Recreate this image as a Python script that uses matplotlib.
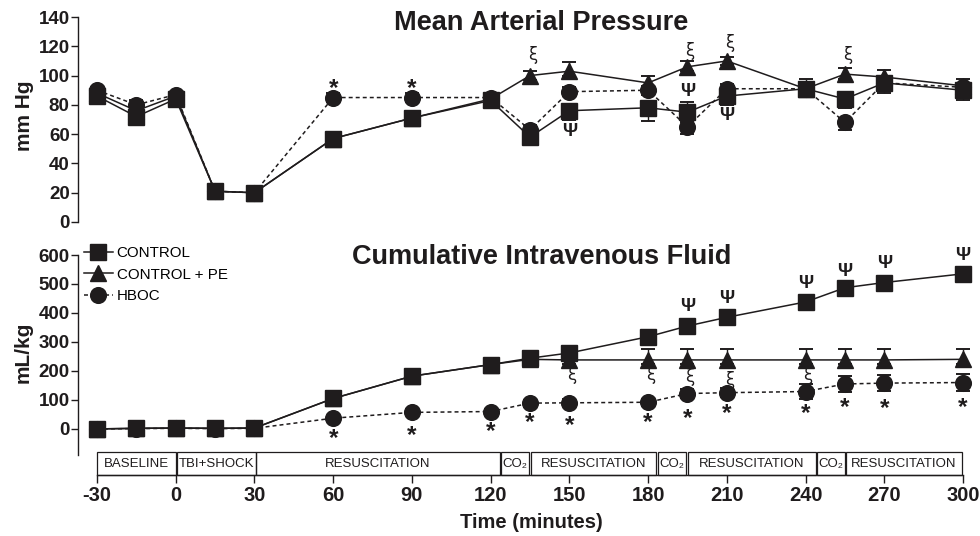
import matplotlib
matplotlib.use('Agg')
import matplotlib.pyplot as plt
from matplotlib.patches import Rectangle
from matplotlib.lines import Line2D
from matplotlib.transforms import offset_copy

plt.rcParams['font.family'] = ['Liberation Sans', 'DejaVu Sans']
plt.rcParams['axes.unicode_minus'] = False

# ---------------- data ----------------
time = [-30, -15, 0, 15, 30, 60, 90, 120, 135, 150, 180, 195, 210, 240, 255, 270, 300]

map_control = [86, 72, 84, 21, 20, 57, 71, 83, 58, 76, 78, 75, 86, 91, 84, 95, 90]
map_control_pe = [88, 76, 86, 21, 20, 57, 71, 84, 100, 103, 95, 106, 110, 91, 101, 99, 93]
map_hboc = [90, 80, 87, 21, 20, 85, 85, 85, 63, 89, 90, 65, 91, 91, 68, 95, 92]

map_control_lo = [2, 3, 2, 1, 1, 3, 3, 3, 3, 6, 9, 3, 6, 4, 6, 7, 7]
map_control_hi = [2, 3, 2, 1, 1, 3, 3, 3, 3, 3, 3, 7, 3, 7, 3, 3, 3]
map_pe_lo = [2, 3, 2, 1, 1, 3, 3, 3, 3, 3, 3, 3, 3, 3, 3, 3, 3]
map_pe_hi = [2, 3, 2, 1, 1, 3, 3, 3, 3, 6, 5, 4, 3, 3, 4, 5, 5]
map_hboc_lo = [2, 3, 2, 1, 1, 3, 3, 3, 3, 3, 3, 5, 3, 3, 5, 3, 3]
map_hboc_hi = [2, 3, 2, 1, 1, 3, 3, 3, 3, 3, 3, 3, 3, 3, 3, 3, 3]

ivf_control = [0, 2, 3, 2, 3, 105, 182, 222, 244, 262, 318, 355, 385, 438, 487, 505, 535]
ivf_control_pe = [0, 2, 3, 2, 3, 105, 182, 222, 240, 238, 238, 238, 238, 238, 238, 238, 240]
ivf_hboc = [0, 1, 2, 1, 2, 37, 57, 60, 89, 90, 92, 122, 125, 129, 155, 158, 160]

ivf_control_err = [0, 1, 1, 1, 1, 10, 12, 12, 12, 15, 15, 15, 18, 18, 18, 20, 20]
ivf_pe_lo = [0, 1, 1, 1, 1, 10, 12, 12, 15, 15, 15, 15, 15, 15, 15, 15, 15]
ivf_pe_hi = [0, 1, 1, 1, 1, 10, 12, 12, 20, 25, 37, 37, 37, 37, 37, 37, 37]
ivf_hboc_err = [0, 1, 1, 1, 1, 8, 10, 10, 12, 12, 12, 15, 15, 27, 27, 27, 28]

# significance markers (time, y)
map_star_t = [60, 90]
map_star_y = [96, 96]
map_xi_t = [135, 195, 210, 255]
map_xi_y = [114, 117, 122, 114]
map_psi_t = [150, 195, 210]
map_psi_y = [62, 89, 73]

ivf_star_t = [60, 90, 120, 135, 150, 180, 195, 210, 240, 255, 270, 300]
ivf_star_y = [-9, 2, 17, 48, 37, 48, 60, 77, 77, 100, 94, 100]
ivf_xi_t = [150, 180, 195, 210, 240]
ivf_xi_y = [186, 186, 180, 169, 186]
ivf_psi_t = [195, 210, 240, 255, 270, 300]
ivf_psi_y = [424, 451, 502, 542, 571, 597]

phase_labels = ['BASELINE', 'TBI+SHOCK', 'RESUSCITATION', 'CO\u2082', 'RESUSCITATION',
                'CO\u2082', 'RESUSCITATION', 'CO\u2082', 'RESUSCITATION']
phase_start = [-30, 0.4, 30.6, 124.1, 135.3, 183.7, 195.2, 244.5, 255.6]
phase_end = [0, 30.4, 123.5, 134.5, 183.2, 194.4, 243.9, 255.0, 299.5]

series_names = ['CONTROL', 'CONTROL + PE', 'HBOC']
xticks = [-30, 0, 30, 60, 90, 120, 150, 180, 210, 240, 270, 300]

# ---------------- layout ----------------
W, H = 980, 536
fig = plt.figure(figsize=(W / 100, H / 100), dpi=100)

def fx(px):
    return px / W

def fy(py):
    return 1 - py / H

a = (963 - 97) / 330.0
xl = -30 - (97 - 78) / a
xr = 300 + (975 - 963) / a
left = fx(78)
width = (975 - 78) / W

ink = '#1f1c1d'
dash = (0, (2.6, 2.0))

ax1 = fig.add_axes([left, fy(222), width, (222 - 17) / H])
ax2 = fig.add_axes([left, fy(455), width, (455 - 255) / H])
ax3 = fig.add_axes([left, fy(475), width, (475 - 452) / H])

for ax in (ax1, ax2, ax3):
    ax.set_xlim(xl, xr)
    ax.patch.set_alpha(0)
    for s in ('top', 'right'):
        ax.spines[s].set_visible(False)

ax1.set_ylim(0, 140)
ax2.set_ylim(-90, 600)
ax3.set_ylim(0, 1)

for ax, yt in ((ax1, range(0, 141, 20)), (ax2, range(0, 601, 100))):
    ax.spines['bottom'].set_visible(False)
    ax.spines['left'].set_linewidth(1.0)
    ax.spines['left'].set_color(ink)
    ax.set_xticks([])
    ax.set_yticks(list(yt))
    ax.tick_params(axis='y', length=5, width=1.0, pad=1, labelsize=13.5, colors=ink)
    for lab in ax.get_yticklabels():
        lab.set_fontweight('bold')

ax1.spines['left'].set_bounds(0, 140)
ax2.spines['left'].set_bounds(-90, 600)

ms = 11.3
common = dict(color=ink, ecolor=ink, capsize=5, elinewidth=1.0, capthick=1.4,
              markersize=ms, clip_on=False, lw=1.1)


def draw(ax, ctrl, pe, hb, c_err, pe_err, hb_err):
    ax.errorbar(time, hb, yerr=hb_err, fmt='o', ls=dash, zorder=3, **common)
    ax.errorbar(time, pe, yerr=pe_err, fmt='^', ls='-', zorder=4, **common)
    ax.errorbar(time, ctrl, yerr=c_err, fmt='s', ls='-', zorder=5, **common)


draw(ax1, map_control, map_control_pe, map_hboc,
     [map_control_lo, map_control_hi], [map_pe_lo, map_pe_hi], [map_hboc_lo, map_hboc_hi])
draw(ax2, ivf_control, ivf_control_pe, ivf_hboc,
     ivf_control_err, [ivf_pe_lo, ivf_pe_hi], ivf_hboc_err)


def stars(ax, ts, ys):
    tr = offset_copy(ax.transData, fig=fig, x=0, y=-9.8, units='points')
    for t, y in zip(ts, ys):
        ax.text(t, y, '*', transform=tr, ha='center', va='baseline', fontsize=17.5,
                fontweight='bold', color=ink, clip_on=False)


def xis(ax, ts, ys):
    for t, y in zip(ts, ys):
        ax.text(t + 1, y, '\u03be', ha='center', va='center', fontsize=12,
                color=ink, family=['DejaVu Sans'], clip_on=False)


def psis(ax, ts, ys):
    for t, y in zip(ts, ys):
        ax.text(t, y, '\u03a8', ha='center', va='center', fontsize=13.5,
                fontweight='bold', color=ink, clip_on=False)


stars(ax1, map_star_t, map_star_y)
xis(ax1, map_xi_t, map_xi_y)
psis(ax1, map_psi_t, map_psi_y)
stars(ax2, ivf_star_t, ivf_star_y)
xis(ax2, ivf_xi_t, ivf_xi_y)
psis(ax2, ivf_psi_t, ivf_psi_y)

# legend
handles = [
    Line2D([], [], color=ink, lw=1.1, marker='s', markersize=ms),
    Line2D([], [], color=ink, lw=1.1, marker='^', markersize=ms),
    Line2D([], [], color=ink, lw=1.1, ls=dash, marker='o', markersize=ms),
]
ax2.legend(handles, series_names, loc='upper left', bbox_to_anchor=(fx(84), fy(246)),
           bbox_transform=fig.transFigure, frameon=False, handlelength=1.9,
           handletextpad=0.25, labelspacing=0.5, fontsize=10.9, borderpad=0,
           borderaxespad=0)

# titles
fig.text(fx(541), fy(23), 'Mean Arterial Pressure', ha='center', va='center',
         fontsize=19.5, fontweight='bold', color=ink)
fig.text(fx(542), fy(257), 'Cumulative Intravenous Fluid', ha='center', va='center',
         fontsize=19.5, fontweight='bold', color=ink)
fig.text(fx(25), fy(116), 'mm Hg', rotation=90, ha='center', va='center',
         fontsize=15, fontweight='bold', color=ink)
fig.text(fx(23), fy(352), 'mL/kg', rotation=90, ha='center', va='center',
         fontsize=15, fontweight='bold', color=ink)
fig.text(fx(531), fy(523), 'Time (minutes)', ha='center', va='center',
         fontsize=14.5, fontweight='bold', color=ink)

# phase boxes and x axis
for lab, s, e in zip(phase_labels, phase_start, phase_end):
    ax3.add_patch(Rectangle((s, 0), e - s, 1, fill=False, lw=0.9, edgecolor=ink,
                            clip_on=False))
    ax3.text((s + e) / 2, 0.48, lab, ha='center', va='center', fontsize=9.5,
             color=ink, clip_on=False)

ax3.spines['left'].set_visible(False)
ax3.spines['bottom'].set_bounds(-30, 300)
ax3.spines['bottom'].set_linewidth(1.0)
ax3.spines['bottom'].set_color(ink)
ax3.set_yticks([])
ax3.set_xticks(xticks)
ax3.tick_params(axis='x', length=6, width=1.0, pad=2, labelsize=14.5, colors=ink)
for lab in ax3.get_xticklabels():
    lab.set_fontweight('bold')

fig.savefig('out.png', dpi=100)
